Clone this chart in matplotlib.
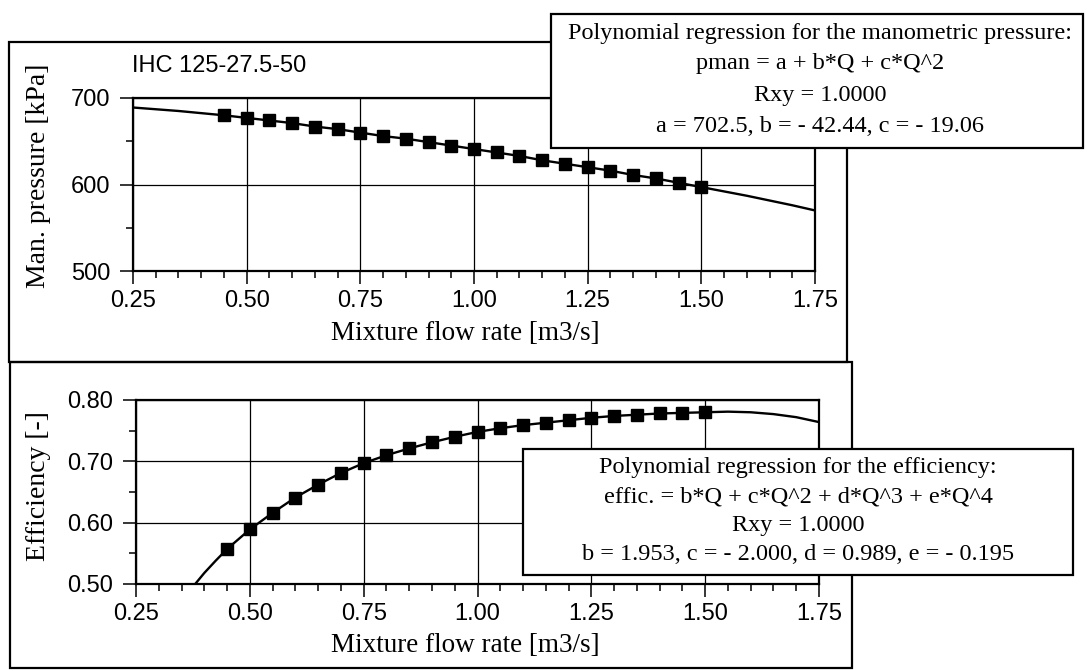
import matplotlib.pyplot as plt
from matplotlib.patches import Rectangle
from matplotlib.ticker import MultipleLocator, FormatStrFormatter

plt.rcParams['font.family'] = ['Liberation Sans', 'DejaVu Sans']

# flow rate of the measured points [m3/s]
flow = [0.45, 0.50, 0.55, 0.60, 0.65, 0.70, 0.75, 0.80, 0.85, 0.90, 0.95,
        1.00, 1.05, 1.10, 1.15, 1.20, 1.25, 1.30, 1.35, 1.40, 1.45, 1.50]
# manometric pressure [kPa]
pman = [680, 677, 674, 671, 667, 664, 660, 656, 653, 649, 645,
        641, 637, 633, 628, 624, 620, 616, 611, 607, 602, 597]
# efficiency [-]
effic = [0.557, 0.589, 0.616, 0.641, 0.662, 0.681, 0.697, 0.710, 0.721, 0.731, 0.740,
         0.748, 0.754, 0.759, 0.763, 0.767, 0.771, 0.774, 0.776, 0.778, 0.779, 0.780]

pman_fit_left_q = [0.25, 0.35]
pman_fit_left = [689, 685]
pman_fit_right_q = [1.60, 1.70, 1.75]
pman_fit_right = [587, 576, 570]
eff_fit_left_q = [0.38, 0.40, 0.425]
eff_fit_left = [0.500, 0.518, 0.538]
eff_fit_right_q = [1.55, 1.60, 1.65, 1.70, 1.75]
eff_fit_right = [0.781, 0.780, 0.777, 0.772, 0.764]

x_ticks = [0.25, 0.50, 0.75, 1.00, 1.25, 1.50, 1.75]
pman_ticks = [500, 600, 700]
eff_ticks = [0.50, 0.60, 0.70, 0.80]

box1_lines = ["Polynomial regression for the manometric pressure:",
              "pman = a + b*Q + c*Q^2",
              "Rxy = 1.0000",
              "a = 702.5, b = - 42.44, c = - 19.06"]
box2_lines = ["Polynomial regression for the efficiency:",
              "effic. = b*Q + c*Q^2 + d*Q^3 + e*Q^4",
              "Rxy = 1.0000",
              "b = 1.953, c = - 2.000, d = 0.989, e = - 0.195"]

W, H = 1087, 671
fig = plt.figure(figsize=(W / 100, H / 100), dpi=100)


def fx(x):
    return x / W


def fy(y):
    return 1 - y / H


def px_axes(x0, y0, x1, y1):
    return fig.add_axes([fx(x0), fy(y1), fx(x1) - fx(x0), fy(y0) - fy(y1)])


def frame(x0, y0, x1, y1, fill=False):
    r = Rectangle((fx(x0), fy(y1)), fx(x1) - fx(x0), fy(y0) - fy(y1),
                  transform=fig.transFigure, fill=fill, facecolor='white',
                  edgecolor='black', lw=1.6)
    fig.add_artist(r)


def setup(ax, yticks, yminor, fmt):
    ax.set_xlim(0.25, 1.75)
    ax.set_ylim(yticks[0], yticks[-1])
    ax.set_xticks(x_ticks)
    ax.set_yticks(yticks)
    ax.xaxis.set_minor_locator(MultipleLocator(0.05))
    ax.yaxis.set_minor_locator(MultipleLocator(yminor))
    ax.xaxis.set_major_formatter(FormatStrFormatter('%.2f'))
    ax.yaxis.set_major_formatter(FormatStrFormatter(fmt))
    ax.grid(True, which='major', color='black', lw=0.9)
    ax.tick_params(which='major', direction='out', length=9.5, width=1.1, labelsize=17)
    ax.tick_params(which='minor', direction='out', length=5, width=1.1)
    ax.tick_params(axis='x', pad=4)
    ax.tick_params(axis='y', pad=7)
    for s in ax.spines.values():
        s.set_linewidth(1.6)


# outer panels
frame(9, 42, 847, 362)
frame(10, 362, 852, 668)

# upper chart: manometric pressure
ax1 = px_axes(133, 98, 815, 271)
setup(ax1, pman_ticks, 50, '%d')
ax1.plot(pman_fit_left_q + flow + pman_fit_right_q, pman_fit_left + pman + pman_fit_right,
         color='black', lw=1.7)
ax1.plot(flow, pman, ls='none', marker='s', ms=8, color='black')

# lower chart: efficiency
ax2 = px_axes(136, 400, 819, 584)
setup(ax2, eff_ticks, 0.05, '%.2f')
ax2.plot(eff_fit_left_q + flow + eff_fit_right_q, eff_fit_left + effic + eff_fit_right,
         color='black', lw=1.7)
ax2.plot(flow, effic, ls='none', marker='s', ms=8, color='black')

serif = ['Liberation Serif', 'DejaVu Serif']
fig.text(fx(132), fy(66), "IHC 125-27.5-50", fontsize=17, va='center', ha='left')
fig.text(fx(39), fy(176), "Man. pressure [kPa]", family=serif, fontsize=20,
         rotation=90, ha='center', va='center')
fig.text(fx(39), fy(486), "Efficiency [-]", family=serif, fontsize=20,
         rotation=90, ha='center', va='center')
fig.text(fx(465), fy(334), "Mixture flow rate [m3/s]", family=serif, fontsize=19.5,
         ha='center', va='center')
fig.text(fx(465), fy(646), "Mixture flow rate [m3/s]", family=serif, fontsize=19.5,
         ha='center', va='center')

# regression text boxes
frame(551, 14, 1083, 148, fill=True)
for line, y in zip(box1_lines, [33, 64, 95, 126]):
    fig.text(fx(820), fy(y), line, family=serif, fontsize=17.5, ha='center', va='center')

frame(523, 449, 1073, 575, fill=True)
for line, y in zip(box2_lines, [468, 497, 526, 554]):
    fig.text(fx(798), fy(y), line, family=serif, fontsize=17.5, ha='center', va='center')

fig.savefig('out.png', dpi=100)
